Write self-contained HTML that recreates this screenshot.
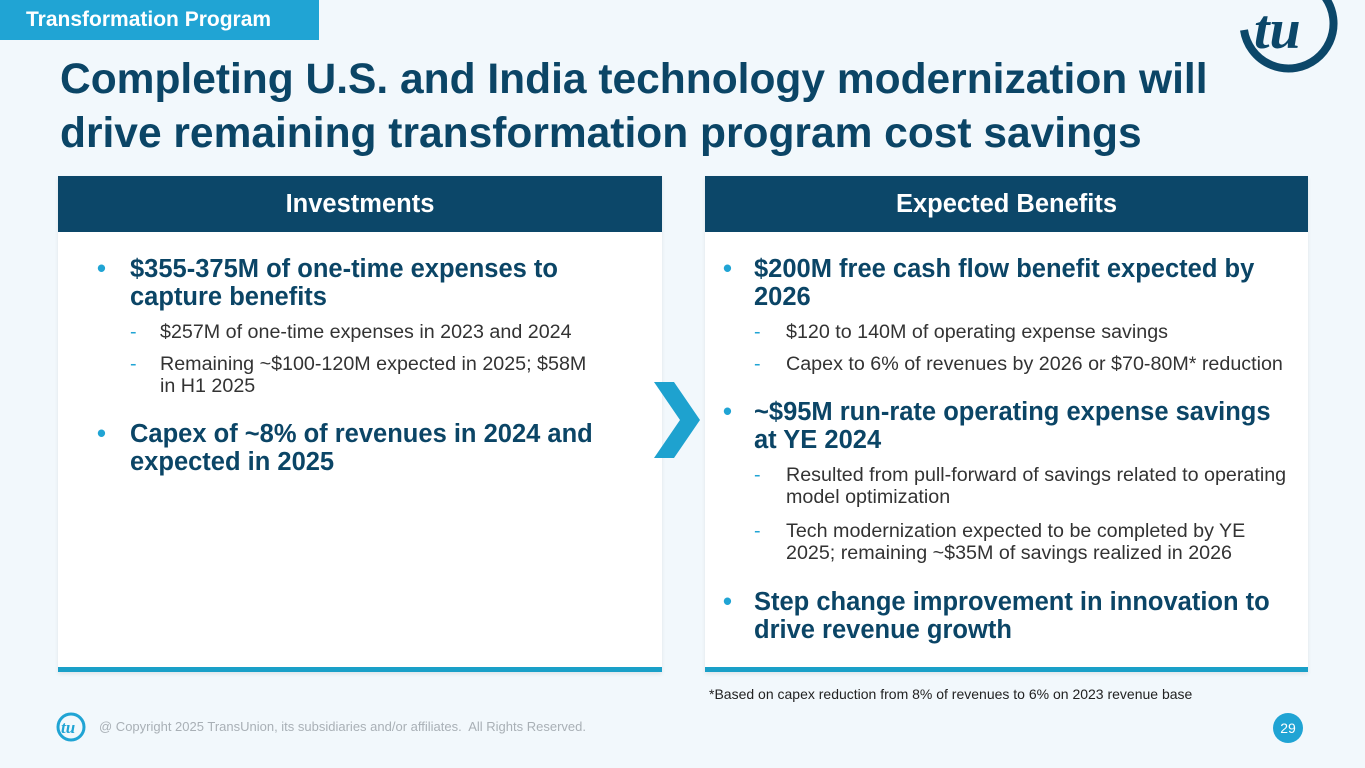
<!DOCTYPE html>
<html><head><meta charset="utf-8"><style>
body{margin:0;width:1365px;height:768px;background:#f2f8fc;position:relative;overflow:hidden;font-family:"Liberation Sans",Arial,sans-serif}
.a{position:absolute;white-space:nowrap}
.tag{left:0;top:0;width:319px;height:40px;background:#20a4d4;color:#fff;font-weight:bold;font-size:21px;line-height:40px;text-indent:26px}
.title{left:60px;top:53px;font-size:42.5px;font-weight:bold;color:#0b4566;line-height:54px}
.panel{background:#fff;box-shadow:0 2px 4px rgba(0,0,0,.08)}
.hdr{background:#0c4769;color:#fff;font-weight:bold;font-size:25.5px;text-align:center;line-height:56px;height:56px}
.bar{background:#1aa0c8;height:5px}
.b{font-size:25.5px;font-weight:bold;color:#0b4566;line-height:28px}
.s{font-size:19.7px;color:#333;line-height:22px}
.dot{color:#20a4d4}
.dash{color:#20a4d4}
</style></head><body>
<div class="a tag">Transformation Program</div>
<div class="a title">Completing U.S. and India technology modernization will<br>drive remaining transformation program cost savings</div>
<svg class="a" style="left:1236px;top:0" width="110" height="78"><path d="M8 30 A45 45 0 1 0 70 -18" fill="none" stroke="#0c4769" stroke-width="8"/><text x="18" y="48" font-family="Liberation Serif" font-style="italic" font-weight="bold" font-size="56" fill="#0c4769">tu</text></svg>

<div class="a panel" style="left:58px;top:176px;width:604px;height:496px"></div>
<div class="a hdr" style="left:58px;top:176px;width:604px">Investments</div>
<div class="a bar" style="left:58px;top:667px;width:604px"></div>

<div class="a panel" style="left:705px;top:176px;width:603px;height:496px"></div>
<div class="a hdr" style="left:705px;top:176px;width:603px">Expected Benefits</div>
<div class="a bar" style="left:705px;top:667px;width:603px"></div>

<svg class="a" style="left:654px;top:382px" width="46" height="76"><polygon points="0,0 20,0 46,38 20,76 0,76 26,38" fill="#1ea2cf"/></svg>

<div class="a b dot" style="left:97px;top:255px">•</div>
<div class="a b" style="left:130px;top:255px">$355-375M of one-time expenses to<br>capture benefits</div>
<div class="a s dash" style="left:130px;top:321px">-</div>
<div class="a s" style="left:160px;top:321px">$257M of one-time expenses in 2023 and 2024</div>
<div class="a s dash" style="left:130px;top:353px">-</div>
<div class="a s" style="left:160px;top:353px">Remaining ~$100-120M expected in 2025; $58M<br>in H1 2025</div>
<div class="a b dot" style="left:97px;top:420px">•</div>
<div class="a b" style="left:130px;top:420px">Capex of ~8% of revenues in 2024 and<br>expected in 2025</div>

<div class="a b dot" style="left:723px;top:255px">•</div>
<div class="a b" style="left:754px;top:255px">$200M free cash flow benefit expected by<br>2026</div>
<div class="a s dash" style="left:754px;top:321px">-</div>
<div class="a s" style="left:786px;top:321px">$120 to 140M of operating expense savings</div>
<div class="a s dash" style="left:754px;top:353px">-</div>
<div class="a s" style="left:786px;top:353px">Capex to 6% of revenues by 2026 or $70-80M* reduction</div>
<div class="a b dot" style="left:723px;top:398px">•</div>
<div class="a b" style="left:754px;top:398px">~$95M run-rate operating expense savings<br>at YE 2024</div>
<div class="a s dash" style="left:754px;top:464px">-</div>
<div class="a s" style="left:786px;top:464px">Resulted from pull-forward of savings related to operating<br>model optimization</div>
<div class="a s dash" style="left:754px;top:520px">-</div>
<div class="a s" style="left:786px;top:520px">Tech modernization expected to be completed by YE<br>2025; remaining ~$35M of savings realized in 2026</div>
<div class="a b dot" style="left:723px;top:588px">•</div>
<div class="a b" style="left:754px;top:588px">Step change improvement in innovation to<br>drive revenue growth</div>

<div class="a" style="left:709px;top:686px;font-size:14px;color:#222">*Based on capex reduction from 8% of revenues to 6% on 2023 revenue base</div>

<svg class="a" style="left:55px;top:711px" width="32" height="32"><circle cx="16" cy="16" r="13" fill="none" stroke="#20a4d4" stroke-width="3"/><text x="6" y="22" font-family="Liberation Serif" font-style="italic" font-weight="bold" font-size="17" fill="#20a4d4">tu</text></svg>
<div class="a" style="left:99px;top:719px;font-size:13px;color:#a9b0b6">@ Copyright 2025 TransUnion, its subsidiaries and/or affiliates.&nbsp; All Rights Reserved.</div>
<div class="a" style="left:1273px;top:713px;width:30px;height:30px;border-radius:50%;background:#20a4d4;color:#fff;font-size:14px;line-height:30px;text-align:center">29</div>
</body></html>
